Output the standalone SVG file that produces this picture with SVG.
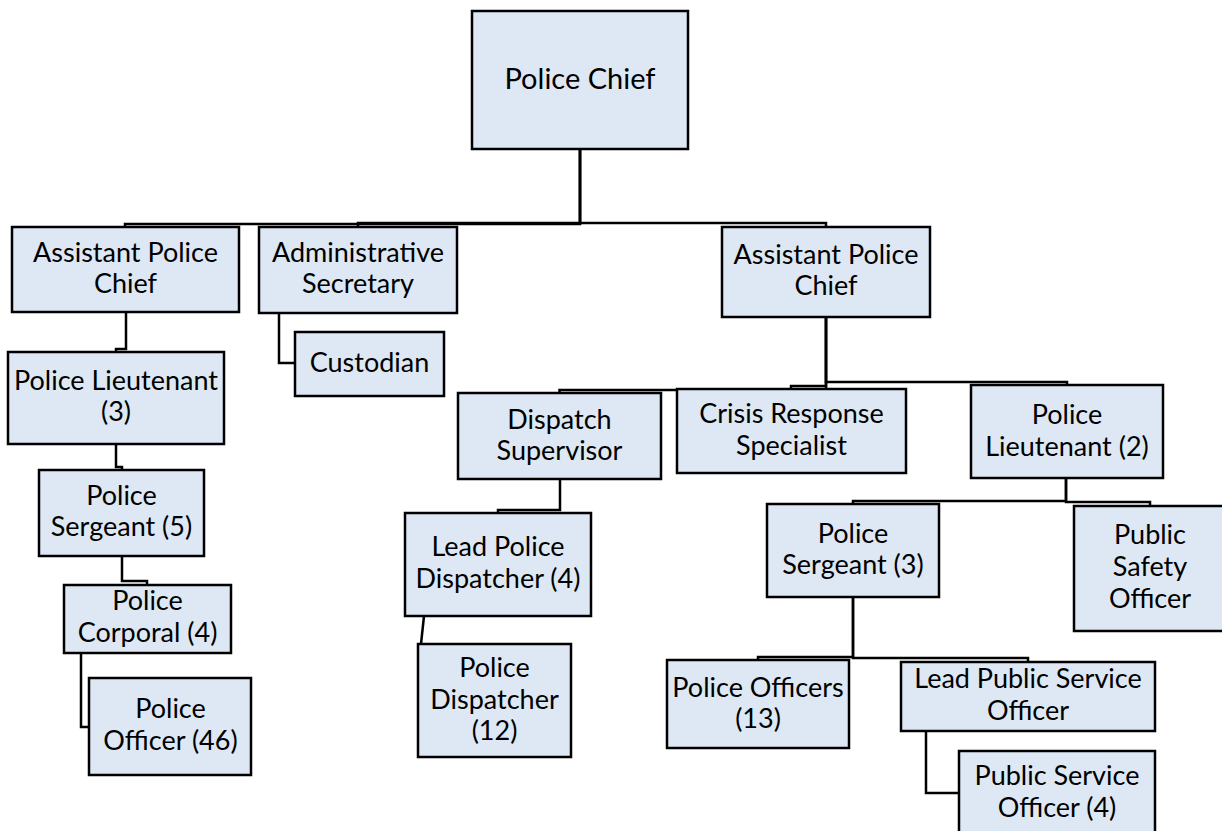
<svg xmlns="http://www.w3.org/2000/svg" width="1222" height="831" viewBox="0 0 1222 831">
  <style>
    .box { fill: #dde8f4; stroke: #000; stroke-width: 2.5; }
    .wire { fill: none; stroke: #000; stroke-width: 2.5; stroke-linejoin: miter; }
    .lbl { font-family: Lato, "Liberation Sans", sans-serif; font-size: 27px; fill: #000; text-anchor: middle; }
    .big { font-size: 29px; }
  </style>
  <rect width="1222" height="831" fill="#fff"/>

  <!-- reporting lines -->
  <g id="connectors">
    <path class="wire" d="M580,149 V224 H125 V227"/>
    <path class="wire" d="M580,149 V223 H358 V227"/>
    <path class="wire" d="M580,149 V223 H826 V227"/>
    <path class="wire" d="M126,312 V349 H116 V352"/>
    <path class="wire" d="M279,313 V363 H295"/>
    <path class="wire" d="M116,444 V467 H122 V470"/>
    <path class="wire" d="M122,556 V581 H147 V585"/>
    <path class="wire" d="M81,653 V727 H89"/>
    <path class="wire" d="M826,317 V390 H559.5 V393"/>
    <path class="wire" d="M826,317 V386 H791 V389"/>
    <path class="wire" d="M826,317 V382 H1067 V385"/>
    <path class="wire" d="M560,479 V510 H498 V513"/>
    <path class="wire" d="M424,616 L421,644"/>
    <path class="wire" d="M1066,478 V501 H853 V504"/>
    <path class="wire" d="M1066,478 V502 H1150 V506"/>
    <path class="wire" d="M853,597 V657 H758 V660"/>
    <path class="wire" d="M853,597 V658 H1028 V662"/>
    <path class="wire" d="M926,731 V793 H959"/>
  </g>

  <g id="police-chief">
    <rect class="box" x="472" y="11" width="216" height="138"/>
    <text class="lbl big" x="580" y="89">Police Chief</text>
  </g>

  <g id="assistant-chief-1">
    <rect class="box" x="12" y="227" width="227" height="85"/>
    <text class="lbl" x="125.5" y="262">Assistant Police</text>
    <text class="lbl" x="125.5" y="293">Chief</text>
  </g>

  <g id="admin-secretary">
    <rect class="box" x="259" y="227" width="198" height="86"/>
    <text class="lbl" x="358" y="262">Administrative</text>
    <text class="lbl" x="358" y="293">Secretary</text>
  </g>

  <g id="assistant-chief-2">
    <rect class="box" x="722" y="227" width="208" height="90"/>
    <text class="lbl" x="826" y="264">Assistant Police</text>
    <text class="lbl" x="826" y="295">Chief</text>
  </g>

  <g id="custodian">
    <rect class="box" x="295" y="332" width="149" height="64"/>
    <text class="lbl" x="369.5" y="372">Custodian</text>
  </g>

  <g id="lieutenant-3">
    <rect class="box" x="8" y="352" width="216" height="92"/>
    <text class="lbl" x="116" y="390">Police Lieutenant</text>
    <text class="lbl" x="116" y="421">(3)</text>
  </g>

  <g id="sergeant-5">
    <rect class="box" x="39" y="470" width="165" height="86"/>
    <text class="lbl" x="121.5" y="505">Police</text>
    <text class="lbl" x="121.5" y="536">Sergeant (5)</text>
  </g>

  <g id="corporal-4">
    <rect class="box" x="64" y="585" width="167" height="68"/>
    <text class="lbl" x="147.5" y="610">Police</text>
    <text class="lbl" x="147.5" y="642">Corporal (4)</text>
  </g>

  <g id="officer-46">
    <rect class="box" x="89" y="678" width="162" height="97"/>
    <text class="lbl" x="170.5" y="718">Police</text>
    <text class="lbl" x="170.5" y="750">Officer (46)</text>
  </g>

  <g id="dispatch-supervisor">
    <rect class="box" x="458" y="393" width="203" height="86"/>
    <text class="lbl" x="559.5" y="429">Dispatch</text>
    <text class="lbl" x="559.5" y="460">Supervisor</text>
  </g>

  <g id="crisis-response">
    <rect class="box" x="677" y="389" width="229" height="84"/>
    <text class="lbl" x="791.5" y="423">Crisis Response</text>
    <text class="lbl" x="791.5" y="455">Specialist</text>
  </g>

  <g id="lieutenant-2">
    <rect class="box" x="971" y="385" width="192" height="93"/>
    <text class="lbl" x="1067" y="424">Police</text>
    <text class="lbl" x="1067" y="456">Lieutenant (2)</text>
  </g>

  <g id="lead-dispatcher">
    <rect class="box" x="405" y="513" width="186" height="103"/>
    <text class="lbl" x="498" y="556">Lead Police</text>
    <text class="lbl" x="498" y="588">Dispatcher (4)</text>
  </g>

  <g id="dispatcher-12">
    <rect class="box" x="418" y="644" width="153" height="113"/>
    <text class="lbl" x="494.5" y="677">Police</text>
    <text class="lbl" x="494.5" y="708.5">Dispatcher</text>
    <text class="lbl" x="494.5" y="740">(12)</text>
  </g>

  <g id="sergeant-3">
    <rect class="box" x="767" y="504" width="172" height="93"/>
    <text class="lbl" x="853" y="543">Police</text>
    <text class="lbl" x="853" y="574">Sergeant (3)</text>
  </g>

  <g id="public-safety-officer">
    <rect class="box" x="1074" y="506" width="152" height="125"/>
    <text class="lbl" x="1150" y="544">Public</text>
    <text class="lbl" x="1150" y="576">Safety</text>
    <text class="lbl" x="1150" y="608">Officer</text>
  </g>

  <g id="officers-13">
    <rect class="box" x="667" y="660" width="182" height="88"/>
    <text class="lbl" x="758" y="697">Police Officers</text>
    <text class="lbl" x="758" y="728">(13)</text>
  </g>

  <g id="lead-public-service">
    <rect class="box" x="901" y="662" width="254" height="69"/>
    <text class="lbl" x="1028" y="688">Lead Public Service</text>
    <text class="lbl" x="1028" y="720">Officer</text>
  </g>

  <g id="public-service-4">
    <rect class="box" x="959" y="751" width="196" height="90"/>
    <text class="lbl" x="1057" y="785">Public Service</text>
    <text class="lbl" x="1057" y="817">Officer (4)</text>
  </g>
</svg>
